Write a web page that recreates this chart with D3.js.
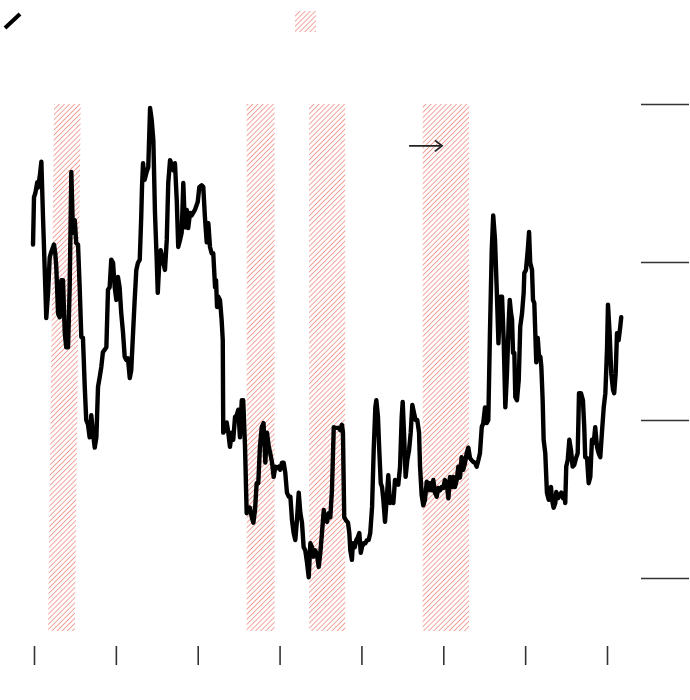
<!DOCTYPE html>
<html><head><meta charset="utf-8">
<script src="https://cdn.jsdelivr.net/npm/d3@7"></script>
<style>body{margin:0;background:#fff}svg{display:block}</style>
</head><body><svg id="c" width="690" height="700"></svg>
<script>
const series = [[1969.94,6.22],[1970.00,6.82],[1970.08,6.87],[1970.20,7.01],[1970.24,6.94],[1970.35,7.08],[1970.45,7.27],[1970.55,6.57],[1970.69,5.68],[1970.75,5.29],[1970.86,5.61],[1970.96,6.06],[1971.06,6.13],[1971.22,6.22],[1971.30,6.11],[1971.36,5.94],[1971.47,5.35],[1971.57,5.30],[1971.67,5.77],[1971.77,5.77],[1971.88,5.10],[1971.97,4.92],[1972.08,4.92],[1972.18,5.68],[1972.28,7.14],[1972.38,6.37],[1972.49,6.53],[1972.58,6.24],[1972.69,6.22],[1972.79,5.68],[1972.89,5.05],[1972.99,5.04],[1973.10,4.42],[1973.19,4.00],[1973.30,3.94],[1973.40,3.78],[1973.50,4.06],[1973.60,3.84],[1973.71,3.65],[1973.81,3.78],[1973.91,4.42],[1974.01,4.54],[1974.11,4.67],[1974.21,4.86],[1974.32,4.89],[1974.42,4.92],[1974.52,5.65],[1974.62,5.68],[1974.72,6.03],[1974.83,5.99],[1974.93,5.68],[1975.03,5.52],[1975.13,5.81],[1975.23,5.68],[1975.33,5.35],[1975.44,5.10],[1975.54,4.80],[1975.64,4.76],[1975.74,4.78],[1975.85,4.53],[1975.94,4.63],[1976.05,5.10],[1976.15,5.52],[1976.25,5.90],[1976.35,5.99],[1976.46,6.03],[1976.55,6.57],[1976.60,6.97],[1976.66,7.25],[1976.76,7.04],[1976.88,7.14],[1976.98,7.20],[1977.09,7.95],[1977.19,7.80],[1977.29,7.54],[1977.39,6.62],[1977.49,6.06],[1977.56,5.61],[1977.64,5.94],[1977.74,6.15],[1977.90,5.99],[1978.00,5.90],[1978.11,6.28],[1978.20,7.00],[1978.31,7.29],[1978.41,7.23],[1978.51,7.16],[1978.61,7.25],[1978.72,6.78],[1978.81,6.19],[1978.92,6.28],[1979.02,6.37],[1979.12,7.00],[1979.22,6.44],[1979.33,6.66],[1979.42,6.43],[1979.53,6.62],[1979.63,6.59],[1979.83,6.66],[1980.00,6.76],[1980.10,6.95],[1980.24,6.97],[1980.34,6.95],[1980.44,6.57],[1980.55,6.25],[1980.65,6.49],[1980.75,6.19],[1980.85,6.11],[1980.95,6.11],[1981.06,5.68],[1981.12,5.77],[1981.18,5.43],[1981.26,5.56],[1981.36,5.52],[1981.46,5.27],[1981.53,5.01],[1981.56,3.84],[1981.67,3.87],[1981.77,3.97],[1981.87,3.84],[1981.97,3.66],[1982.08,3.84],[1982.17,3.75],[1982.28,4.04],[1982.38,4.06],[1982.48,4.13],[1982.58,3.78],[1982.69,4.25],[1982.78,4.25],[1982.89,3.66],[1982.99,2.82],[1983.09,2.86],[1983.19,2.89],[1983.30,2.77],[1983.40,2.70],[1983.50,2.86],[1983.60,3.20],[1983.70,3.20],[1983.80,3.66],[1983.91,3.91],[1984.02,3.96],[1984.13,3.46],[1984.23,3.84],[1984.34,3.66],[1984.43,3.58],[1984.54,3.46],[1984.64,3.28],[1984.74,3.41],[1984.84,3.39],[1984.95,3.41],[1985.04,3.37],[1985.15,3.46],[1985.25,3.46],[1985.35,3.33],[1985.45,3.08],[1985.56,3.03],[1985.66,3.03],[1985.76,2.73],[1985.86,2.57],[1985.96,2.48],[1986.06,2.73],[1986.17,3.08],[1986.27,2.82],[1986.37,2.70],[1986.47,2.39],[1986.57,2.35],[1986.68,2.19],[1986.78,2.01],[1986.88,2.44],[1986.98,2.39],[1987.08,2.27],[1987.18,2.35],[1987.29,2.29],[1987.39,2.14],[1987.49,2.32],[1987.59,2.57],[1987.70,2.86],[1987.79,2.73],[1987.90,2.71],[1988.00,2.82],[1988.10,2.77],[1988.20,3.11],[1988.31,3.91],[1988.40,3.90],[1988.61,3.90],[1988.71,3.87],[1988.81,3.94],[1988.87,3.84],[1988.95,2.77],[1989.06,2.73],[1989.18,2.70],[1989.26,2.57],[1989.32,2.35],[1989.42,2.23],[1989.48,2.44],[1989.59,2.39],[1989.69,2.48],[1989.79,2.52],[1989.87,2.57],[1989.96,2.32],[1990.03,2.39],[1990.14,2.44],[1990.24,2.44],[1990.34,2.48],[1990.44,2.48],[1990.54,2.57],[1990.65,2.90],[1990.75,3.62],[1990.85,4.16],[1990.91,4.25],[1991.01,4.04],[1991.09,3.62],[1991.18,3.20],[1991.26,3.15],[1991.34,2.99],[1991.44,2.71],[1991.54,2.99],[1991.64,3.30],[1991.74,2.95],[1991.85,2.96],[1991.95,2.95],[1992.05,3.24],[1992.15,3.20],[1992.25,3.18],[1992.36,3.41],[1992.46,4.04],[1992.52,4.23],[1992.60,3.84],[1992.70,3.28],[1992.80,3.49],[1992.91,3.62],[1993.01,3.84],[1993.11,4.19],[1993.21,4.09],[1993.31,4.00],[1993.41,4.00],[1993.52,3.84],[1993.58,3.41],[1993.68,3.05],[1993.78,2.92],[1993.88,2.99],[1993.99,3.22],[1994.08,3.11],[1994.19,3.20],[1994.29,3.11],[1994.39,3.24],[1994.49,3.08],[1994.60,3.03],[1994.69,3.14],[1994.80,3.11],[1994.90,3.15],[1995.00,3.14],[1995.10,3.24],[1995.21,3.20],[1995.31,3.01],[1995.41,3.28],[1995.51,3.15],[1995.61,3.28],[1995.71,3.15],[1995.82,3.24],[1995.92,3.41],[1996.02,3.27],[1996.12,3.53],[1996.22,3.37],[1996.33,3.46],[1996.43,3.58],[1996.53,3.65],[1996.63,3.52],[1996.73,3.49],[1996.83,3.47],[1996.94,3.46],[1997.04,3.41],[1997.14,3.49],[1997.24,3.58],[1997.35,3.91],[1997.44,3.96],[1997.55,4.16],[1997.65,3.96],[1997.75,4.00],[1997.85,5.10],[1997.96,6.15],[1998.05,6.59],[1998.16,6.28],[1998.26,5.68],[1998.37,4.97],[1998.48,5.56],[1998.59,5.56],[1998.69,5.01],[1998.79,4.16],[1998.89,4.59],[1999.00,5.27],[1999.06,5.52],[1999.14,5.35],[1999.20,5.27],[1999.26,4.85],[1999.34,4.85],[1999.40,4.29],[1999.50,4.25],[1999.61,4.51],[1999.70,5.18],[1999.81,5.35],[1999.91,5.61],[1999.95,5.86],[2000.05,5.90],[2000.16,6.15],[2000.24,6.38],[2000.31,5.99],[2000.42,5.90],[2000.48,5.52],[2000.56,5.48],[2000.62,5.10],[2000.68,4.73],[2000.77,5.04],[2000.85,4.80],[2000.93,4.80],[2000.99,4.67],[2001.07,4.25],[2001.13,3.75],[2001.23,3.58],[2001.33,3.08],[2001.44,2.99],[2001.50,3.11],[2001.58,3.15],[2001.64,2.99],[2001.74,2.89],[2001.84,2.95],[2001.90,3.09],[2002.01,3.01],[2002.11,3.05],[2002.21,3.08],[2002.31,3.01],[2002.39,3.05],[2002.45,2.95],[2002.51,3.41],[2002.60,3.49],[2002.70,3.75],[2002.80,3.62],[2002.90,3.41],[2003.00,3.43],[2003.11,3.52],[2003.21,3.58],[2003.29,4.34],[2003.41,4.34],[2003.53,4.25],[2003.61,3.91],[2003.67,3.53],[2003.78,3.52],[2003.88,3.20],[2003.98,3.28],[2004.08,3.75],[2004.19,3.71],[2004.28,3.91],[2004.39,3.66],[2004.49,3.58],[2004.59,3.53],[2004.69,3.84],[2004.80,4.16],[2004.90,4.34],[2005.00,4.89],[2005.06,5.46],[2005.16,5.10],[2005.26,4.59],[2005.37,4.38],[2005.44,4.34],[2005.53,4.59],[2005.61,5.10],[2005.71,5.01],[2005.81,5.18],[2005.87,5.30]];
const recessions = [[1970.86, 1972.49], [1982.99, 1984.70], [1986.80, 1989.01], [1993.74, 1996.57]];
const xTicks = [1970, 1975, 1980, 1985, 1990, 1995, 2000, 2005];
const yTicks = [2, 4, 6, 8];
const arrowSpan = [1992.91, 1994.92];
const arrowLevel = 7.47;

const svg = d3.select('#c');
const x = d3.scaleLinear().domain([1970, 2005]).range([34, 607]);
const y = d3.scaleLinear().domain([2, 8]).range([578, 104]);
const plotBottom = 631;
const firstBandLean = 6;

const defs = svg.append('defs');
const pat = defs.append('pattern').attr('id', 'hatch')
  .attr('patternUnits', 'userSpaceOnUse').attr('width', 3.6).attr('height', 3.6)
  .attr('patternTransform', 'rotate(45)');
pat.append('line').attr('x1', 0).attr('y1', 0).attr('x2', 0).attr('y2', 3.6)
  .attr('stroke', '#ea7468').attr('stroke-width', 1.3);

// recession bands
svg.append('g').selectAll('path').data(recessions).join('path')
  .attr('d', (d, i) => {
    const lean = i === 0 ? firstBandLean : 0;
    const x0 = x(d[0]), x1 = x(d[1]), t = y(8);
    return `M${x0 + lean},${t}L${x1 + lean},${t}L${x1},${plotBottom}L${x0},${plotBottom}Z`;
  })
  .attr('fill', 'url(#hatch)');

// right gridlines
const yAxis = svg.append('g').attr('transform', 'translate(641,0)')
  .call(d3.axisRight(y).tickValues(yTicks).tickSize(48).tickFormat(''));
yAxis.select('.domain').remove();
yAxis.selectAll('line').attr('stroke', '#333').attr('stroke-width', 1.6);

// bottom ticks
const xAxis = svg.append('g').attr('transform', 'translate(0,646)')
  .call(d3.axisBottom(x).tickValues(xTicks).tickSize(19).tickFormat(''));
xAxis.select('.domain').remove();
xAxis.selectAll('line').attr('stroke', '#333').attr('stroke-width', 1.6);

// series line
const line = d3.line().x(d => x(d[0])).y(d => y(d[1]));
svg.append('path').datum(series).attr('d', line)
  .attr('fill', 'none').attr('stroke', '#000').attr('stroke-width', 4.4)
  .attr('stroke-linejoin', 'round').attr('stroke-linecap', 'round');

// annotation arrow
const ax0 = x(arrowSpan[0]), ax1 = x(arrowSpan[1]), ay = y(arrowLevel);
const arrow = svg.append('g').attr('stroke', '#222').attr('stroke-width', 1.8).attr('fill', 'none');
arrow.append('line').attr('x1', ax0).attr('y1', ay).attr('x2', ax1).attr('y2', ay);
arrow.append('path').attr('d', `M${ax1 - 7},${ay - 5.5}L${ax1},${ay}L${ax1 - 7},${ay + 5.5}`);

// legend
svg.append('line').attr('x1', 5).attr('y1', 28).attr('x2', 20).attr('y2', 14)
  .attr('stroke', '#000').attr('stroke-width', 4);
svg.append('rect').attr('x', 295).attr('y', 11).attr('width', 21).attr('height', 21)
  .attr('fill', 'url(#hatch)');
</script>
</body></html>
